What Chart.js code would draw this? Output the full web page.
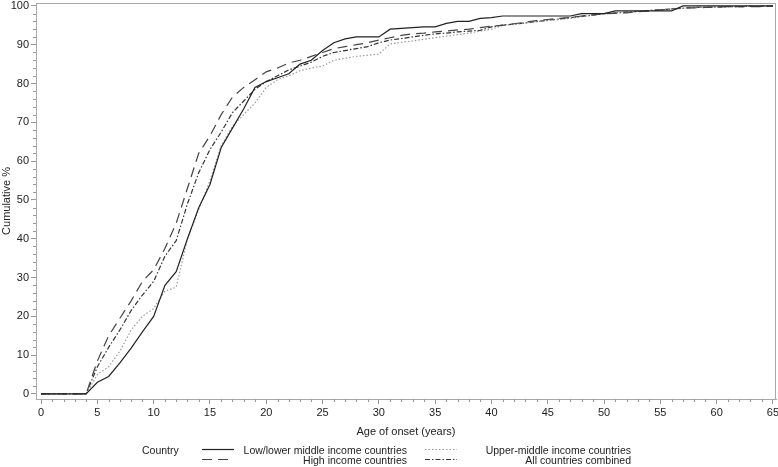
<!DOCTYPE html>
<html>
<head>
<meta charset="utf-8">
<script src="https://cdn.jsdelivr.net/npm/chart.js@4.4.0/dist/chart.umd.min.js"></script>
<style>
html, body { margin: 0; padding: 0; background: #fff; }
#wrap { position: relative; width: 778px; height: 467px; }
</style>
</head>
<body>
<div id="wrap"><canvas id="onsetChart"></canvas></div>
<script>
// Age of onset (years)
const ages = [0, 1, 2, 3, 4, 5, 6, 7, 8, 9, 10, 11, 12, 13, 14, 15, 16, 17, 18, 19, 20,
    21, 22, 23, 24, 25, 26, 27, 28, 29, 30, 31, 32, 33, 34, 35, 36, 37, 38, 39, 40,
    41, 42, 43, 44, 45, 46, 47, 48, 49, 50, 51, 52, 53, 54, 55, 56, 57, 58, 59, 60,
    61, 62, 63, 64, 65];

// Cumulative % per group
const lowLower = [0, 0, 0, 0, 0, 3, 4.5, 8, 11.8, 16, 20, 28, 31.5, 40, 48, 54, 63.5, 68.5, 73.5, 79, 80.5,
    81.5, 82.5, 85, 86, 88.5, 90.5, 91.5, 92, 92, 92, 94, 94.2, 94.4, 94.6, 94.6, 95.5, 96, 96, 96.8, 97,
    97.4, 97.4, 97.4, 97.4, 97.4, 97.4, 97.4, 98, 98, 98, 98.7, 98.7, 98.7, 98.7, 98.7, 98.7, 100, 100, 100, 100,
    100, 100, 100, 100, 100];
const highIncome = [0, 0, 0, 0, 0, 8.5, 15, 19.5, 24, 29, 32, 37.5, 44, 53, 62, 66.5, 72, 76.5, 79, 81, 83,
    84, 85.3, 86, 87, 88, 89, 89.5, 90, 90.5, 91.2, 91.8, 92.4, 92.8, 93, 93.3, 93.5, 93.8, 94, 94.4, 94.8,
    95, 95.4, 95.8, 96.2, 96.5, 96.8, 97, 97.4, 97.7, 98, 98.1, 98.2, 98.5, 98.7, 99, 99.2, 99.5, 99.5, 99.6, 99.7,
    99.8, 99.8, 99.8, 99.8, 100];
const upperMiddle = [0, 0, 0, 0, 0, 5, 7, 11, 16.5, 20, 22, 26.5, 27.5, 40, 47.5, 55, 64, 69, 72, 75, 79,
    81, 82, 83.3, 84, 84.5, 86, 86.5, 87, 87.3, 87.6, 90.2, 90.6, 91, 91.4, 91.8, 92.2, 92.6, 93, 93.5, 94,
    95, 95.3, 95.6, 95.9, 96.2, 96.5, 96.8, 97.2, 97.6, 98, 98.2, 98.4, 98.6, 98.8, 99, 99.2, 99.4, 99.6, 99.6, 99.7,
    99.8, 99.8, 99.9, 99.9, 100];
const allCountries = [0, 0, 0, 0, 0, 7, 12, 16.5, 21.5, 25.5, 29, 35.5, 39.5, 49, 57, 63, 67.5, 72.5, 75.5, 78.5, 80.5,
    82, 83.5, 84.5, 85.5, 87, 88, 88.5, 89, 89.5, 90.5, 91.2, 91.6, 92, 92.4, 92.8, 93, 93.3, 93.5, 93.7, 94.6,
    95.1, 95.3, 95.6, 96, 96.3, 96.6, 97, 97.3, 97.6, 98, 98.2, 98.4, 98.6, 98.8, 99, 99.2, 99.4, 99.6, 99.6, 99.7,
    99.8, 99.8, 99.9, 99.9, 100];

const xTicks = [0, 5, 10, 15, 20, 25, 30, 35, 40, 45, 50, 55, 60, 65];
const yTicks = [0, 10, 20, 30, 40, 50, 60, 70, 80, 90, 100];

const FONT = 'Liberation Sans, Arial, sans-serif';

function toPoints(values) {
    return ages.map((a, i) => ({ x: a, y: values[i] }));
}

// minor ticks, frame and the SAS style legend
const decorPlugin = {
    id: 'decor',
    afterDraw(chart) {
        const ctx = chart.ctx;
        const area = chart.chartArea;
        const xs = chart.scales.x, ys = chart.scales.y;
        ctx.save();
        ctx.strokeStyle = '#a8a8a8';
        ctx.lineWidth = 1;
        ctx.strokeRect(area.left + 0.5, area.top + 0.5, area.right - area.left - 1, area.bottom - area.top);

        ctx.strokeStyle = '#999';
        ctx.beginPath();
        for (let i = 0; i < xTicks.length - 1; i++) {
            for (let v = xTicks[i] + 1; v < xTicks[i + 1]; v++) {
                const px = Math.round(xs.getPixelForValue(v)) + 0.5;
                ctx.moveTo(px, area.bottom);
                ctx.lineTo(px, area.bottom + 3);
            }
        }
        for (let i = 0; i < yTicks.length - 1; i++) {
            for (let v = yTicks[i] + 2; v < yTicks[i + 1]; v += 2) {
                const py = Math.round(ys.getPixelForValue(v)) + 0.5;
                ctx.moveTo(area.left, py);
                ctx.lineTo(area.left - 3, py);
            }
        }
        ctx.stroke();

        // legend
        const cols = [{ x: 202, end: 407 }, { x: 425, end: 631 }];
        const rows = [450, 460];
        const order = [[0, 0, 0], [1, 0, 1], [2, 1, 0], [3, 1, 1]];
        ctx.font = '10.5px ' + FONT;
        ctx.fillStyle = '#222';
        ctx.textBaseline = 'middle';
        ctx.textAlign = 'left';
        ctx.fillText('Country', 142, rows[0] + 1);
        order.forEach(([di, c, r]) => {
            const ds = chart.data.datasets[di];
            ctx.strokeStyle = ds.borderColor;
            ctx.lineWidth = ds.borderWidth;
            ctx.setLineDash(ds.borderDash || []);
            ctx.beginPath();
            ctx.moveTo(cols[c].x, rows[r] - 0.5);
            ctx.lineTo(cols[c].x + 32, rows[r] - 0.5);
            ctx.stroke();
            ctx.setLineDash([]);
            ctx.textAlign = 'right';
            ctx.fillText(ds.label, cols[c].end, rows[r] + 1);
        });
        ctx.restore();
    }
};

const ctx = document.getElementById('onsetChart').getContext('2d');
const onsetChart = new Chart(ctx, {
    type: 'line',
    data: {
        datasets: [{
            label: 'Low/lower middle income countries',
            data: toPoints(lowLower),
            borderColor: '#222',
            borderWidth: 1.2
        }, {
            label: 'High income countries',
            data: toPoints(highIncome),
            borderColor: '#444',
            borderWidth: 1.2,
            borderDash: [10, 6]
        }, {
            label: 'Upper-middle income countries',
            data: toPoints(upperMiddle),
            borderColor: '#9a9a9a',
            borderWidth: 1.2,
            borderDash: [1.5, 2]
        }, {
            label: 'All countries combined',
            data: toPoints(allCountries),
            borderColor: '#333',
            borderWidth: 1.2,
            borderDash: [5, 2, 1.5, 2]
        }]
    },
    options: {
        responsive: true,
        maintainAspectRatio: false,
        animation: false,
        devicePixelRatio: 1,
        layout: { padding: { top: 3, right: 2, left: 0, bottom: 0 } },
        elements: { point: { radius: 0 }, line: { tension: 0 } },
        plugins: {
            legend: { display: false },
            tooltip: { enabled: false }
        },
        scales: {
            x: {
                type: 'linear',
                min: -0.45,
                max: 65.27,
                afterBuildTicks: s => { s.ticks = xTicks.map(v => ({ value: v })); },
                afterFit: s => { s.height = 68; s.paddingLeft = 0; s.paddingRight = 0; },
                ticks: { color: '#222', font: { family: FONT, size: 11 }, padding: 2, maxRotation: 0 },
                grid: { drawOnChartArea: false, tickLength: 5, color: '#999' },
                border: { display: true, color: '#a8a8a8' },
                title: {
                    display: true,
                    text: 'Age of onset (years)',
                    color: '#222',
                    font: { family: FONT, size: 11 },
                    padding: { top: 0, bottom: 28 }
                }
            },
            y: {
                min: -1.3,
                max: 100.75,
                afterBuildTicks: s => { s.ticks = yTicks.map(v => ({ value: v })); },
                afterFit: s => { s.width = 36; s.paddingTop = 0; s.paddingBottom = 0; },
                ticks: { color: '#222', font: { family: FONT, size: 11 }, padding: 2 },
                grid: { drawOnChartArea: false, tickLength: 5, color: '#999' },
                border: { display: true, color: '#a8a8a8' },
                title: {
                    display: true,
                    text: 'Cumulative %',
                    color: '#222',
                    font: { family: FONT, size: 11 },
                    padding: 0
                }
            }
        }
    },
    plugins: [decorPlugin]
});
</script>
</body>
</html>
